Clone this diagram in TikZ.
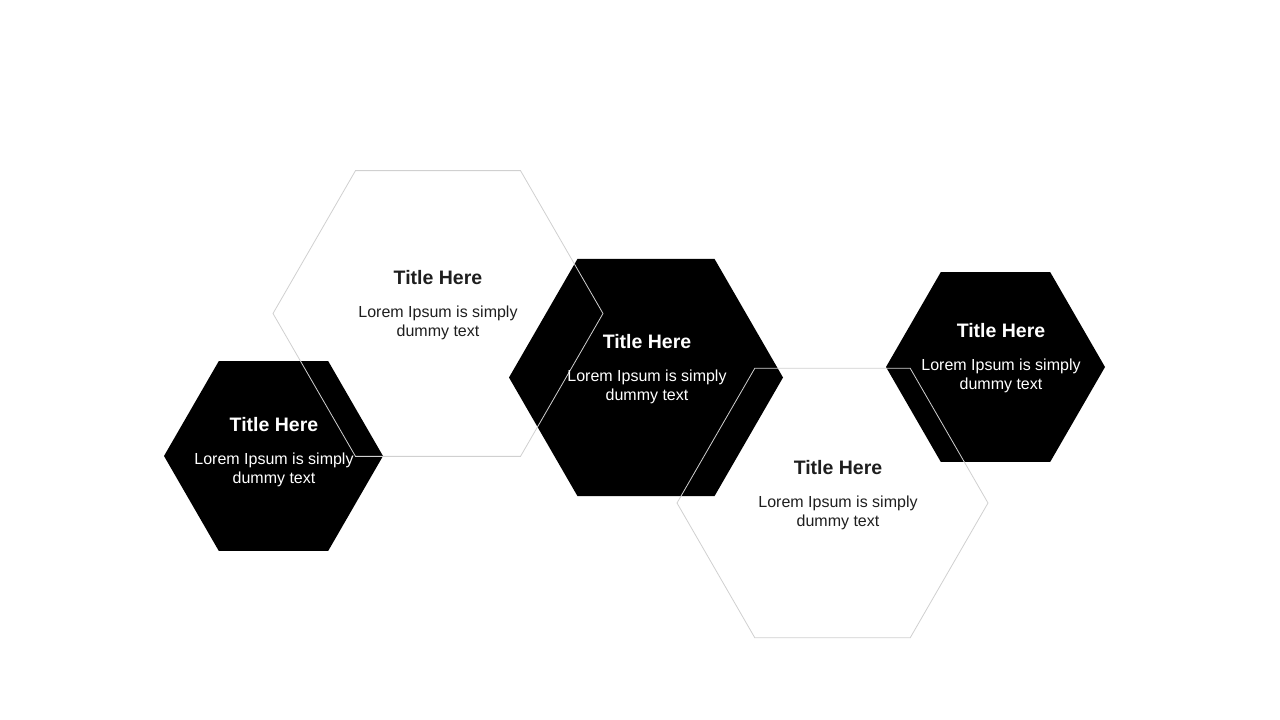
\documentclass[tikz,border=0pt]{standalone}
\usepackage{fontspec}
\setmainfont{Liberation Sans}
\usepackage{tikz}
\usetikzlibrary{shapes.geometric}
\definecolor{inkgray}{HTML}{1E1E1E}
\definecolor{edgegray}{HTML}{D0D0D0}
\tikzstyle{hexfull} = [regular polygon, regular polygon sides=6,
    fill=black, draw=none, inner sep=0pt]
\tikzstyle{hexline} = [regular polygon, regular polygon sides=6,
    draw=edgegray, line width=0.8pt, inner sep=0pt]
\tikzstyle{title} = [font=\fontsize{19.5}{23}\selectfont\bfseries, inner sep=0pt]
\tikzstyle{body} = [font=\fontsize{16}{19}\selectfont, align=center, inner sep=0pt,
    node distance=45pt]

\begin{document}
\begin{tikzpicture}[x=1pt, y=-1pt]
      \useasboundingbox (0,0) rectangle (1280,720);
      % filled hexagons
      \node [hexfull, minimum size=219pt] (hexa) at (273.5,456) {};
      \node [hexfull, minimum size=274pt] (hexc) at (646,377.5) {};
      \node [hexfull, minimum size=219pt] (hexe) at (995.5,367) {};
      % outlined hexagons
      \node [hexline, minimum size=330pt] (hexb) at (438,313.5) {};
      \node [hexline, minimum size=311pt] (hexd) at (832.5,503) {};

      \node [title, text=white] (ta) at (274,425) {Title Here};
      \node [body, below of=ta, text=white] (ba) {Lorem Ipsum is simply\\dummy text};
      \node [title, text=inkgray] (tb) at (438,278) {Title Here};
      \node [body, below of=tb, text=inkgray] (bb) {Lorem Ipsum is simply\\dummy text};
      \node [title, text=white] (tc) at (647,342) {Title Here};
      \node [body, below of=tc, text=white] (bc) {Lorem Ipsum is simply\\dummy text};
      \node [title, text=inkgray] (td) at (838,468) {Title Here};
      \node [body, below of=td, text=inkgray] (bd) {Lorem Ipsum is simply\\dummy text};
      \node [title, text=white] (te) at (1001,331) {Title Here};
      \node [body, below of=te, text=white] (be) {Lorem Ipsum is simply\\dummy text};
   \end{tikzpicture}
\end{document}
